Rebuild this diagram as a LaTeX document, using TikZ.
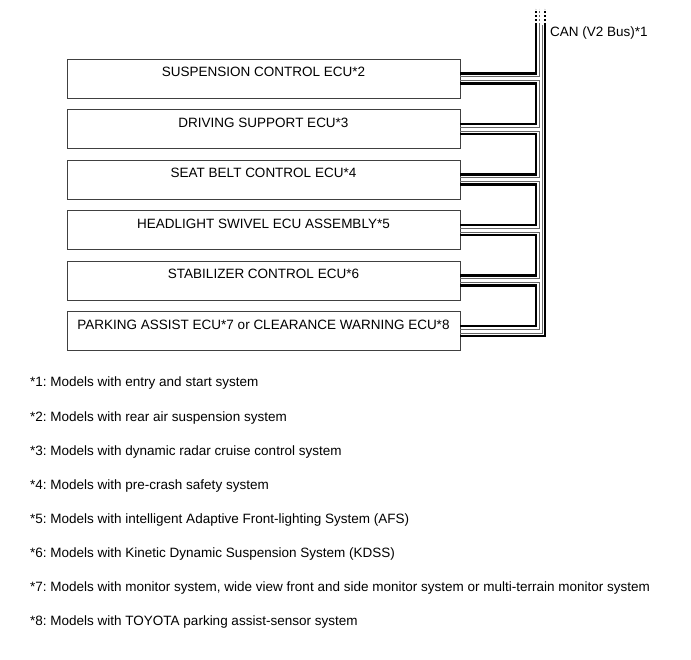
\documentclass[tikz,border=0pt]{standalone}
\usepackage{fontspec}
\setmainfont{Liberation Sans}
\usetikzlibrary{positioning,calc}
\frenchspacing

\tikzset{
  ecu/.style={draw=black!75, line width=1pt, minimum width=393pt, inner xsep=0pt, inner ysep=0pt,
    outer sep=0pt, text height=17.5pt, text depth=21.5pt},
  note/.style={anchor=base west, inner sep=0pt},
  wire/.style={line width=2.6pt, line join=miter},
  pair/.style={line width=0.9pt, black!60},
  dots/.style={dash pattern=on 2pt off 2pt},
}

\begin{document}
\begin{tikzpicture}[x=1pt, y=1pt, font=\fontsize{13.5}{15}\selectfont]
    \useasboundingbox (0,0) rectangle (691,-660);
    \node[ecu] (e1) at (263.5,-79) {SUSPENSION CONTROL ECU*2};
    \node[ecu, below=11.5pt of e1] (e2) {DRIVING SUPPORT ECU*3};
    \node[ecu, below=11.5pt of e2] (e3) {SEAT BELT CONTROL ECU*4};
    \node[ecu, below=11.5pt of e3] (e4) {HEADLIGHT SWIVEL ECU ASSEMBLY*5};
    \node[ecu, below=11.5pt of e4] (e5) {STABILIZER CONTROL ECU*6};
    \node[ecu, below=11.5pt of e5] (e6) {PARKING ASSIST ECU*7 or CLEARANCE WARNING ECU*8};
    \coordinate (bw) at (536,-25);
    \coordinate (bg) at (539,-25);
    \coordinate (bt) at (542,-25);
    \coordinate (bo) at (545,-25);
    \foreach \i in {1,...,6} {
        \coordinate (i\i) at ($(e\i.north east)+(0,-14)$);
        \coordinate (ig\i) at ($(e\i.north east)+(0,-17)$);
        \coordinate (og\i) at ($(e\i.north east)+(0,-21)$);
        \coordinate (o\i) at ($(e\i.north east)+(0,-24)$);
    }
    \draw[wire, dots] (bw) -- ++(0,16);
    \draw[wire, dots] (bo) -- ++(0,16);
    \draw[pair, dots] (bg) -- ++(0,16);
    \draw[pair] (bg) |- (ig1);
    \draw[pair] (bt) |- (og6);
    \draw[wire] (bw) |- (i1);
    \draw[wire] (bo) |- (o6);
    \foreach \i [count=\j from 2] in {1,...,5} {
        \draw[pair] (og\i) -| (bg |- ig\j) -- (ig\j);
        \draw[wire] (o\i) -| (bw |- i\j) -- (i\j);
    }
    \node[note] (can) at (550,-37) {CAN (V2 Bus)*1};
    \foreach \t [count=\k] in {
        {*1: Models with entry and start system},
        {*2: Models with rear air suspension system},
        {*3: Models with dynamic radar cruise control system},
        {*4: Models with pre-crash safety system},
        {*5: Models with intelligent Adaptive Front-lighting System (AFS)},
        {*6: Models with Kinetic Dynamic Suspension System (KDSS)},
        {*7: Models with monitor system, wide view front and side monitor system or multi-terrain monitor system},
        {*8: Models with TOYOTA parking assist-sensor system}}
        \node[note] (n\k) at (30,{-387-34*(\k-1)}) {\t};
\end{tikzpicture}
\end{document}
